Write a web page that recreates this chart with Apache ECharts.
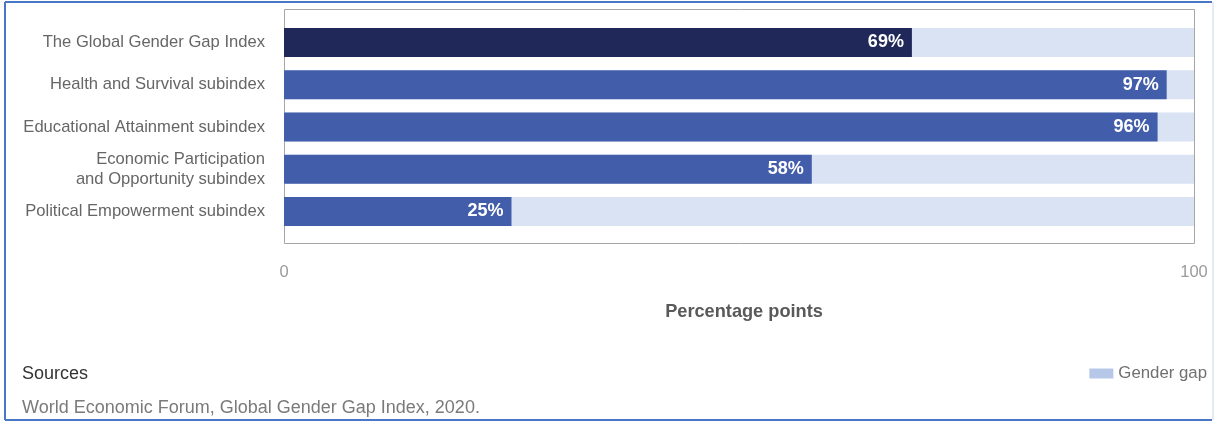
<!DOCTYPE html>
<html>
<head>
<meta charset="utf-8">
<script src="https://cdn.jsdelivr.net/npm/echarts@6/dist/echarts.min.js"></script>
<style>
html,body{margin:0;padding:0;background:#fff;}
#chart{width:1216px;height:421px;}
</style>
</head>
<body>
<div id="chart"></div>
<script>
var categories = [
  'The Global Gender Gap Index',
  'Health and Survival subindex',
  'Educational Attainment subindex',
  'Economic Participation\nand Opportunity subindex',
  'Political Empowerment subindex'
];
var scores = [69, 97, 96, 58, 25];
var fullScale = [100, 100, 100, 100, 100];
var xTicks = [0, 100];
var barColors = ['#1f2859', '#425eab', '#425eab', '#425eab', '#425eab'];

var FONT = '"Liberation Sans", Arial, Helvetica, sans-serif';
var chart = echarts.init(document.getElementById('chart'));

chart.setOption({
  animation: false,
  textStyle: { fontFamily: FONT },
  grid: { left: 284, width: 910, top: 21.4, height: 211.2, containLabel: false },
  xAxis: {
    type: 'value', min: xTicks[0], max: xTicks[xTicks.length - 1], interval: 100,
    axisLine: { show: false }, axisTick: { show: false }, splitLine: { show: false },
    axisLabel: { color: '#9a9a9a', fontSize: 16.5, margin: 31, fontFamily: FONT },
    name: 'Percentage points', nameLocation: 'middle', nameGap: 70,
    nameTextStyle: { color: '#595959', fontSize: 18.2, fontWeight: 'bold', fontFamily: FONT, padding: [0, 0, 0, 10] }
  },
  yAxis: {
    type: 'category', data: categories, inverse: true,
    axisLine: { show: false }, axisTick: { show: false },
    axisLabel: { color: '#666666', fontSize: 16.6, margin: 19, lineHeight: 20, fontFamily: FONT }
  },
  legend: {
    right: 9, top: 365, padding: 0, itemWidth: 24, itemHeight: 10, icon: 'rect', itemGap: 10,
    textStyle: { color: '#707070', fontSize: 16.8, fontFamily: FONT },
    data: [{ name: 'Gender gap', itemStyle: { color: '#b6c7e8' } }]
  },
  series: [
    {
      name: 'Gender gap', type: 'bar', data: fullScale, barWidth: 29, barGap: '-100%',
      itemStyle: { color: '#dae3f3' }, silent: true
    },
    {
      name: 'Score', type: 'bar', barWidth: 29,
      data: scores.map(function (v, i) { return { value: v, itemStyle: { color: barColors[i] } }; }),
      label: {
        show: true, position: 'insideRight', distance: 8, formatter: '{c}%',
        color: '#ffffff', fontWeight: 'bold', fontSize: 18, fontFamily: FONT
      }
    }
  ],
  graphic: [
    { type: 'rect', shape: { x: 284.5, y: 9.5, width: 910, height: 234 },
      style: { fill: 'none', stroke: '#a6a6a6', lineWidth: 1 }, silent: true },
    { type: 'line', shape: { x1: 5, y1: 2, x2: 1212, y2: 2 }, style: { stroke: '#4a76c6', lineWidth: 2 } },
    { type: 'line', shape: { x1: 5, y1: 420, x2: 1212, y2: 420 }, style: { stroke: '#4a76c6', lineWidth: 2 } },
    { type: 'line', shape: { x1: 5, y1: 2, x2: 5, y2: 420 }, style: { stroke: '#4a76c6', lineWidth: 2 } },
    { type: 'line', shape: { x1: 1213, y1: 2, x2: 1213, y2: 420 }, style: { stroke: '#c9d6ee', lineWidth: 1 } },
    { type: 'text', left: 22, top: 365,
      style: { text: 'Sources', fill: '#333333', fontSize: 18, fontFamily: FONT } },
    { type: 'text', left: 22, top: 399,
      style: { text: 'World Economic Forum, Global Gender Gap Index, 2020.', fill: '#7a7a7a', fontSize: 18, fontFamily: FONT } }
  ]
});
</script>
</body>
</html>
